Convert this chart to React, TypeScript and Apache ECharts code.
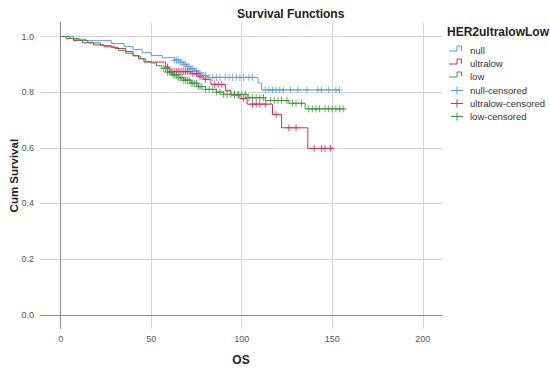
import React, { useEffect, useRef } from "react";
import * as echarts from "echarts";

// Kaplan-Meier step points [time, cumulative survival]
const nullSteps: number[][] = [
  [0, 1], [7, 0.99], [14, 0.985], [28, 0.975], [35, 0.964], [40, 0.953], [45, 0.942],
  [50, 0.932], [56, 0.924], [63, 0.915], [66, 0.907], [68, 0.9], [70, 0.892], [72, 0.884],
  [74, 0.876], [76, 0.868], [78, 0.86], [81, 0.853], [109, 0.833], [111, 0.808], [154, 0.808],
];
const ultralowSteps: number[][] = [
  [0, 1], [3, 0.993], [7, 0.986], [12, 0.978], [18, 0.97], [24, 0.963], [30, 0.957],
  [36, 0.946], [40, 0.932], [43, 0.92], [46, 0.908], [58, 0.89], [60, 0.874], [72, 0.866],
  [76, 0.855], [79, 0.846], [83, 0.828], [91, 0.806], [94, 0.79], [99, 0.777], [103, 0.757],
  [117, 0.72], [122, 0.672], [136.5, 0.598], [150.5, 0.598],
];
const lowSteps: number[][] = [
  [0, 1], [5, 0.993], [10, 0.986], [15, 0.977], [22, 0.968], [28, 0.96], [32, 0.95],
  [36, 0.94], [40, 0.93], [44, 0.92], [47, 0.91], [50, 0.905], [53, 0.895], [56, 0.885],
  [59, 0.872], [62, 0.862], [65, 0.852], [68, 0.843], [72, 0.832], [76, 0.82], [80, 0.81],
  [86, 0.8], [90, 0.792], [103, 0.78], [113, 0.77], [126, 0.76], [135, 0.74], [157, 0.74],
];

// censored times
const nullCensored: number[] = [
  63, 64, 65, 66, 67, 68, 69, 70, 71, 72, 73, 74, 75, 76, 77, 78, 79, 80, 82, 84, 86, 88,
  91, 93, 95, 97, 99, 101, 104, 106, 113, 115, 117, 119, 121, 123, 127, 131, 136, 142, 144,
  148, 152, 154,
];
const ultralowCensored: number[] = [
  59, 61, 62, 63, 64, 65, 66, 67, 68, 69, 70, 71, 73, 75, 77, 80, 85, 87, 89, 96, 98, 101,
  106, 108, 110, 113, 119, 126, 130, 140, 144, 146, 149,
];
const lowCensored: number[] = [
  57, 58, 59, 60, 61, 62, 63, 64, 65, 66, 67, 68, 69, 70, 71, 72, 73, 74, 75, 76, 77, 78,
  80, 82, 84, 86, 88, 90, 92, 94, 96, 98, 100, 102, 104, 106, 108, 110, 112, 116, 118, 120,
  122, 125, 128, 130, 133, 137, 139, 141, 143, 146, 148, 150, 152, 154, 156,
];

const groupNames = ["null", "ultralow", "low"];
const legendTitle = "HER2ultralowLow";
const colors = ["#5b9de8", "#e0285a", "#3c9a3c"];

const survivalAt = (steps: number[][], t: number) => {
  let y = steps[0][1];
  for (const s of steps) {
    if (s[0] <= t) y = s[1];
  }
  return y;
};

const plusPath = "path://M0,5L10,5M5,0L5,10";

export default function App() {
  const ref = useRef<HTMLDivElement>(null);
  useEffect(() => {
    if (!ref.current) return;
    const chart = echarts.init(ref.current, undefined, { renderer: "svg" });
    const stepsList = [nullSteps, ultralowSteps, lowSteps];
    const censList = [nullCensored, ultralowCensored, lowCensored];
    const font = "Liberation Sans, Arial, sans-serif";

    const lineSeries = stepsList.map((steps, i) => ({
      type: "line",
      name: groupNames[i],
      step: "end",
      data: steps,
      showSymbol: false,
      symbol: "none",
      lineStyle: { color: colors[i], width: 1 },
      itemStyle: { color: colors[i] },
      z: 2 + i,
    }));
    const censSeries = censList.map((times, i) => ({
      type: "scatter",
      name: groupNames[i] + "-censored",
      data: times.map((t) => [t, survivalAt(stepsList[i], t)]),
      symbol: plusPath,
      symbolSize: [7, 7],
      itemStyle: { color: "rgba(0,0,0,0)", borderColor: colors[i], borderWidth: 1 },
      z: 5 + i,
    }));

    const legendCenters = [50.5, 63.5, 76.5, 90, 103, 116];
    const legendLabels = [
      ...groupNames,
      ...groupNames.map((g) => g + "-censored"),
    ];
    const legendGraphics: any[] = [
      {
        type: "text",
        left: 447,
        top: 26,
        style: { text: legendTitle, font: `bold 12px ${font}`, fill: "#222" },
      },
    ];
    legendLabels.forEach((lab, i) => {
      const c = legendCenters[i];
      const col = colors[i % 3];
      if (i < 3) {
        legendGraphics.push({
          type: "polyline",
          shape: {
            points: [
              [449, c + 0.5],
              [457, c + 0.5],
              [457, c - 4.5],
              [461.5, c - 4.5],
              [461.5, c],
            ],
          },
          style: { stroke: col, lineWidth: 1, fill: "none" },
        });
      } else {
        legendGraphics.push({
          type: "line",
          shape: { x1: 451, y1: c + 0.5, x2: 463, y2: c + 0.5 },
          style: { stroke: col, lineWidth: 1 },
        });
        legendGraphics.push({
          type: "line",
          shape: { x1: 457, y1: c - 3.5, x2: 457, y2: c + 4.5 },
          style: { stroke: col, lineWidth: 1 },
        });
      }
      legendGraphics.push({
        type: "text",
        x: 470,
        y: c,
        style: {
          text: lab,
          font: `9.5px ${font}`,
          fill: "#333",
          textVerticalAlign: "middle",
          verticalAlign: "middle",
        },
      });
    });

    chart.setOption({
      animation: false,
      backgroundColor: "#ffffff",
      title: {
        text: "Survival Functions",
        left: 232,
        top: 3,
        textStyle: { fontSize: 12, fontWeight: "bold", color: "#222", fontFamily: font },
      },
      grid: {
        left: 40,
        right: 108,
        top: 22.6,
        bottom: 41.3,
        containLabel: false,
        outerBoundsMode: "none",
      },
      xAxis: {
        type: "value",
        min: -11.4,
        max: 210.6,
        splitNumber: 4,
        name: "OS",
        nameLocation: "middle",
        nameGap: 25,
        nameMoveOverlap: false,
        nameTextStyle: { fontSize: 12, fontWeight: "bold", color: "#222", fontFamily: font },
        axisLine: { show: true, lineStyle: { color: "#8c8c8c", width: 1 } },
        axisTick: { show: false },
        axisLabel: {
          fontSize: 9,
          color: "#555",
          fontFamily: font,
          margin: 6,
          showMinLabel: false,
          showMaxLabel: false,
          formatter: (v: number) => (Math.abs(v % 50) < 1e-6 ? String(v) : ""),
        },
        splitLine: {
          show: true,
          showMinLine: false,
          showMaxLine: false,
          lineStyle: { color: "#d4d4d4", width: 1 },
        },
      },
      yAxis: {
        type: "value",
        min: -0.05,
        max: 1.05,
        splitNumber: 5,
        name: "Cum Survival",
        nameLocation: "middle",
        nameGap: 20,
        nameMoveOverlap: false,
        nameTextStyle: { fontSize: 11.5, fontWeight: "bold", color: "#222", fontFamily: font },
        axisLine: { show: true, lineStyle: { color: "#8c8c8c", width: 1 } },
        axisTick: { show: false },
        axisLabel: {
          fontSize: 9,
          color: "#555",
          fontFamily: font,
          margin: 6,
          showMinLabel: false,
          showMaxLabel: false,
          formatter: (v: number) => {
            const r = Math.round(v * 10) / 10;
            return Math.abs(v - r) < 1e-6 && Math.round(r * 10) % 2 === 0 ? r.toFixed(1) : "";
          },
        },
        splitLine: {
          show: true,
          showMinLine: false,
          showMaxLine: false,
          lineStyle: { color: "#d4d4d4", width: 1 },
        },
      },
      graphic: legendGraphics,
      series: [...lineSeries, ...censSeries],
    } as any);
    return () => chart.dispose();
  }, []);
  return (
    <div
      ref={ref}
      style={{ position: "fixed", left: 0, top: 0, width: 550, height: 370, background: "#fff" }}
    />
  );
}
